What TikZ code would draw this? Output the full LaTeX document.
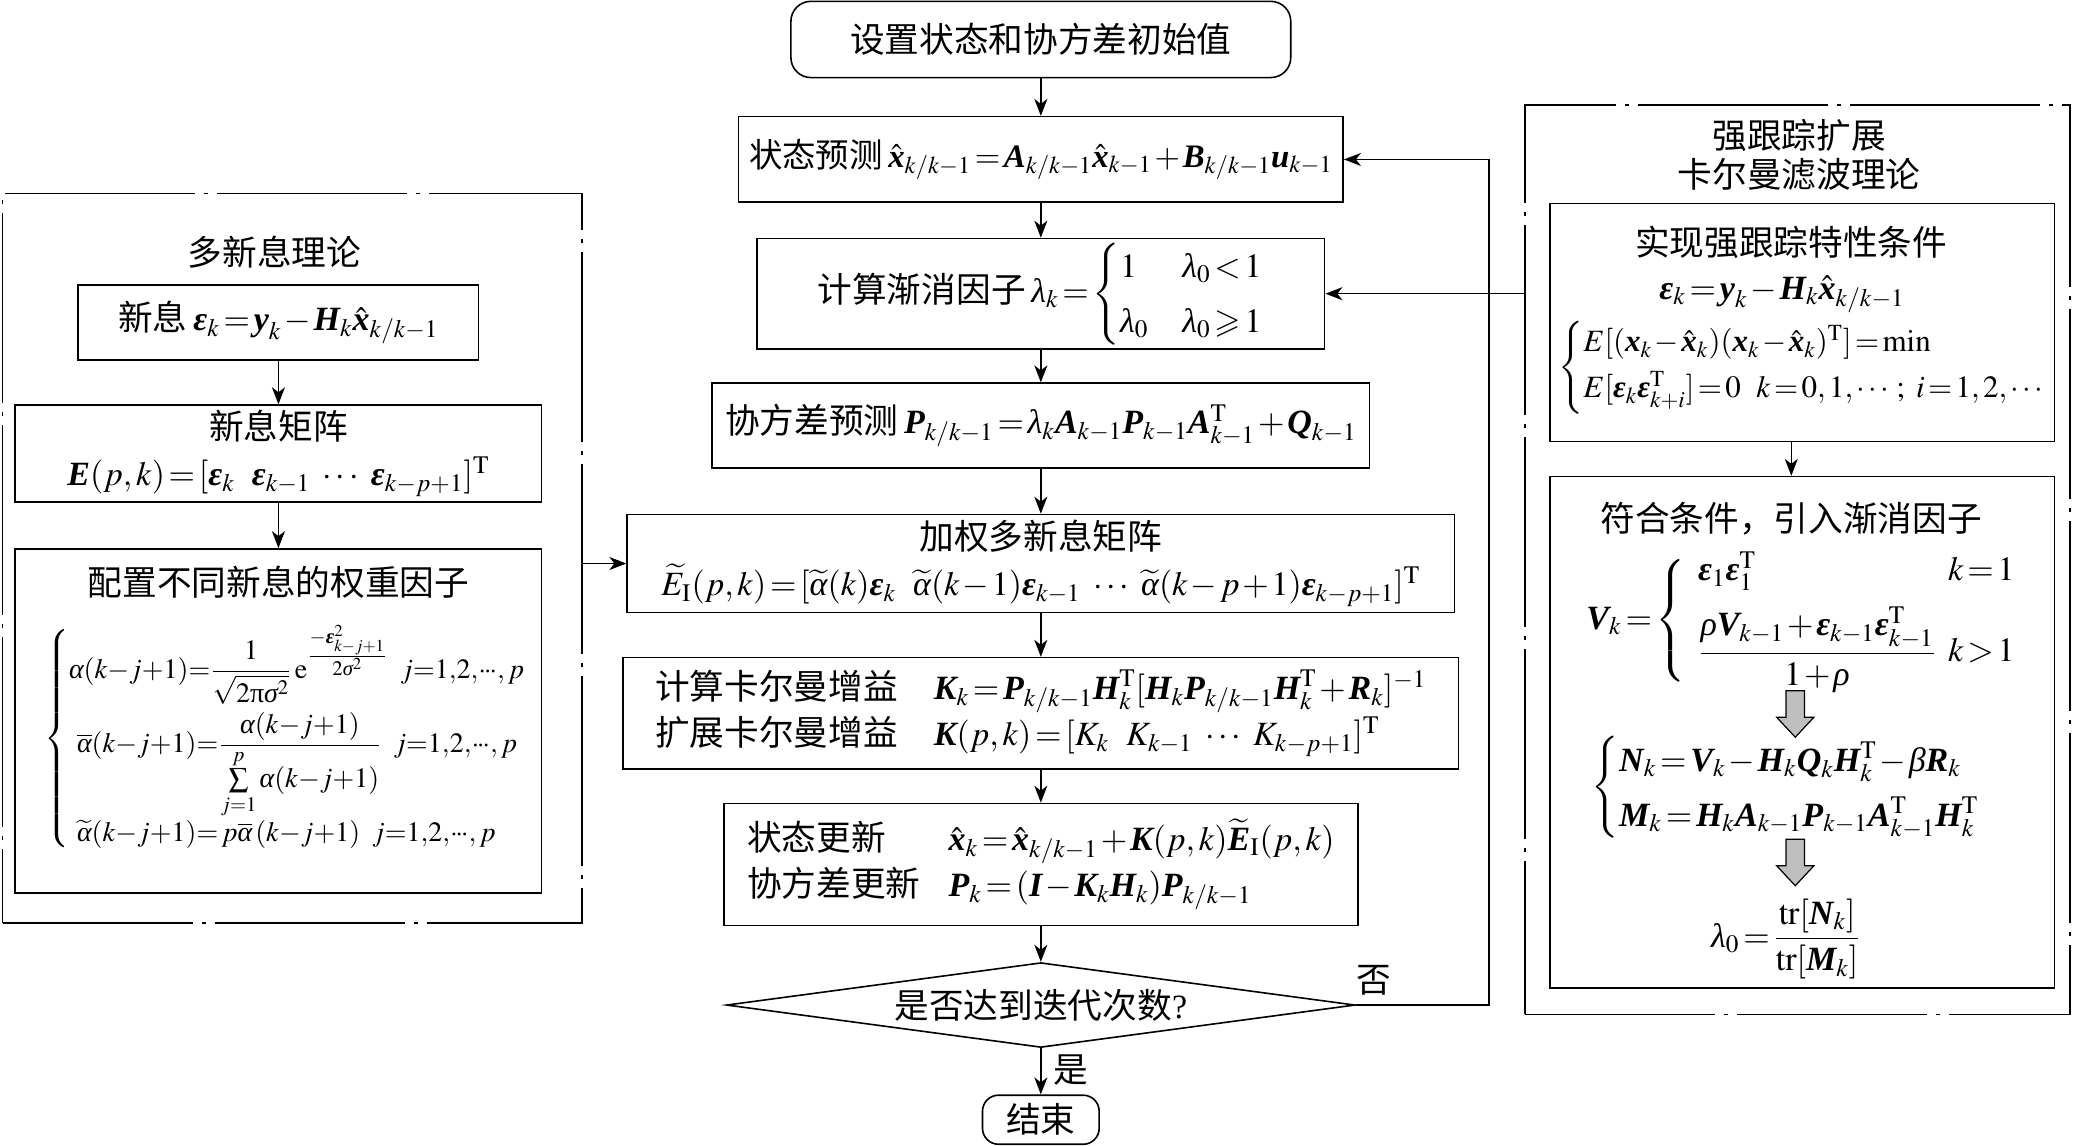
\documentclass[tikz,border=0pt]{standalone}
\usepackage{amsmath,amssymb}
\usepackage{mathptmx}
\usepackage{fontspec}
\setmainfont{Liberation Serif}
\newfontfamily\zh[Scale=1.02]{Noto Sans CJK SC}
\usetikzlibrary{shapes.geometric,arrows.meta}
\newcommand\bi[1]{\text{\normalfont\bfseries\itshape #1}}
\newcommand\mi[1]{\text{\normalfont\itshape #1}}
\newcommand\epb{\bi{ε}}
\newcommand\lm{\mi{λ}}
\newcommand\al{\mi{α}}
\newcommand\hx{\hat{\bi{x}}}
\newcommand\TT{\mathrm{T}}
\newcommand\cd{\mathord{\cdot}\mkern-1.5mu\mathord{\cdot}\mkern-1.5mu\mathord{\cdot}}
\newcommand\tightmath{\thickmuskip=2mu plus 1mu\medmuskip=1.5mu plus 1mu}
\tikzset{garr/.pic={\filldraw[fill=gray!50,draw=black,line width=0.6pt] (-7,0) -- (7,0) -- (7,20) -- (14,20) -- (0,35) -- (-14,20) -- (-7,20) -- cycle;}}
\begin{document}
\begin{tikzpicture}[x=0.663pt,y=-0.663pt,
  every node/.style={font=\fontsize{17}{23}\selectfont\tightmath},
  sz/.style 2 args={minimum width=#1*0.663pt,minimum height=#2*0.663pt},
  box/.style={draw,line width=0.8pt,inner sep=0pt,align=center},
  rbox/.style={box,rounded corners=10pt},
  frame/.style={draw,line width=0.8pt,inner sep=0pt,dash pattern=on 95pt off 4.5pt on 2pt off 4.5pt},
  arr/.style={line width=0.8pt,-{Stealth[length=8.5pt,width=6.5pt,inset=2.5pt]}},
  lbl/.style={inner sep=0pt,align=center}]
\useasboundingbox (0,0) rectangle (1568,864);

% central column
\node[rbox,sz={377}{57.5}] (st) at (785,29.75) {\zh 设置状态和协方差初始值};
\node[box,sz={456}{64.5},font=\fontsize{16.4}{23}\selectfont\tightmath] (b2) at (785,120.25) {{\zh 状态预测}\,$\hx_{k/k-1}=\bi{A}_{k/k-1}\hx_{k-1}+\bi{B}_{k/k-1}\bi{u}_{k-1}$};
\node[box,sz={428}{77}] (b3) at (785,221.5) {{\zh 计算渐消因子}\,$\lm_k=\begin{cases}1 & \lm_0<1\\ \lm_0 & \lm_0\geqslant 1\end{cases}$};
\node[box,sz={496}{64}] (b4) at (785,321) {{\zh 协方差预测}\,$\bi{P}_{k/k-1}=\lm_k\bi{A}_{k-1}\bi{P}_{k-1}\bi{A}^{\TT}_{k-1}+\bi{Q}_{k-1}$};
\node[box,sz={624}{74}] (b5) at (785,425) {{\zh 加权多新息矩阵}\\$\widetilde{E}_{\mathrm{I}}(p,k)=[\widetilde{\al}(k)\epb_k\ \ \widetilde{\al}(k-1)\epb_{k-1}\ \cdots\ \widetilde{\al}(k-p+1)\epb_{k-p+1}]^{\TT}$};
\node[box,sz={630}{84}] (b6) at (785,538) {\begin{tabular}{@{}l@{\hspace{18pt}}l@{}}
{\zh 计算卡尔曼增益} & $\bi{K}_k=\bi{P}_{k/k-1}\bi{H}_k^{\TT}[\bi{H}_k\bi{P}_{k/k-1}\bi{H}_k^{\TT}+\bi{R}_k]^{-1}$\\
{\zh 扩展卡尔曼增益} & $\bi{K}(p,k)=[K_k\ \ K_{k-1}\ \cdots\ K_{k-p+1}]^{\TT}$
\end{tabular}};
\node[box,sz={478}{92}] (b7) at (785,652) {\begin{tabular}{@{}l@{\hspace{14pt}}l@{}}
{\zh 状态更新} & $\hx_k=\hx_{k/k-1}+\bi{K}(p,k)\widetilde{\bi{E}}_{\mathrm{I}}(p,k)$\\
{\zh 协方差更新} & $\bi{P}_k=(\bi{I}-\bi{K}_k\bi{H}_k)\bi{P}_{k/k-1}$
\end{tabular}};
\node[diamond,draw,line width=0.8pt,inner sep=0pt,aspect=7.4,sz={474}{64}] (dm) at (785,758) {{\zh 是否达到迭代次数}?};
\node[rbox,rounded corners=8pt,sz={88}{37}] (en) at (785,844.5) {\zh 结束};
\node[lbl] (no) at (1036,739) {\zh 否};
\node[lbl] (yes) at (808,807) {\zh 是};
\coordinate (lp) at (1123,758);

\draw[arr] (st) -- (b2);
\draw[arr] (b2) -- (b3);
\draw[arr] (b3) -- (b4);
\draw[arr] (b4) -- (b5);
\draw[arr] (b5) -- (b6);
\draw[arr] (b6) -- (b7);
\draw[arr] (b7) -- (dm);
\draw[arr] (dm) -- (en);
\draw[arr] (dm.east) -- (lp) |- (b2.east);

% left frame
\node[frame,sz={437}{550}] (lf) at (220.5,421) {};
\node[lbl] (lft) at (207,190) {\zh 多新息理论};
\node[box,sz={302}{56.5}] (l1) at (210,243.25) {{\zh 新息}\,$\epb_k=\bi{y}_k-\bi{H}_k\hx_{k/k-1}$};
\node[box,sz={397}{73}] (l2) at (210,342) {{\zh 新息矩阵}\\$\bi{E}(p,k)=[\epb_k\ \ \epb_{k-1}\ \cdots\ \epb_{k-p+1}]^{\TT}$};
\node[box,sz={397}{259.5}] (l3) at (210,543.75) {};
\node[lbl] (l3t) at (210,439) {\zh 配置不同新息的权重因子};
\node[lbl,anchor=west,font=\fontsize{14}{17}\selectfont\tightmath] (l3f) at (33,557) {$\left\{\begin{array}{@{}l@{}}
\al(k{-}j{+}1){=}\dfrac{1}{\sqrt{2\text{\normalfont π}\mi{σ}^2}}\,\mathrm{e}^{\genfrac{}{}{}{1}{-\epb^2_{k-j+1}}{2\mi{σ}^2}}\hspace{6pt}j{=}1{,}2{,}\cd{,}\,p\\[12pt]
\hspace{4pt}\overline{\al}(k{-}j{+}1){=}\dfrac{\al(k{-}j{+}1)}{\sum\limits_{j=1}^{p}\al(k{-}j{+}1)}\hspace{6pt}j{=}1{,}2{,}\cd{,}\,p\\[19pt]
\hspace{4pt}\widetilde{\al}(k{-}j{+}1){=}\,p\overline{\al}\,(k{-}j{+}1)\hspace{6pt}j{=}1{,}2{,}\cd{,}\,p
\end{array}\right.$};
\draw[arr] (l1) -- (l2);
\draw[arr] (l2) -- (l3);
\draw[arr] (lf.east |- b5.west) -- (b5.west);

% right frame
\node[frame,sz={411}{686}] (rf) at (1355.5,422) {};
\node[lbl,font=\fontsize{17}{19.5}\selectfont] (rft) at (1357,117) {\zh 强跟踪扩展\\\zh 卡尔曼滤波理论};
\node[box,sz={380.5}{179.5}] (r1) at (1359.25,243.25) {};
\node[lbl] (r1t) at (1351,183) {\zh 实现强跟踪特性条件};
\node[lbl] (r1a) at (1344,222) {$\epb_k=\bi{y}_k-\bi{H}_k\hx_{k/k-1}$};
\node[lbl,anchor=west,font=\fontsize{15.5}{19}\selectfont\tightmath] (r1b) at (1175,277) {$\left\{\begin{array}{@{}l@{}}
E[(\bi{x}_k-\hx_k)(\bi{x}_k-\hx_k)^{\TT}]=\min\\[4pt]
E[\epb_k\epb^{\TT}_{k+i}]=0\ \ k=0,1,\cdots;\ i=1,2,\cdots
\end{array}\right.$};
\node[box,sz={380.5}{385.5}] (r2) at (1359.25,552.25) {};
\node[lbl] (r2t) at (1351,391) {\zh 符合条件，引入渐消因子};
\node[lbl] (r2a) at (1358,468) {$\bi{V}_k=\left\{\rule[-24pt]{0pt}{48pt}\right.\hspace{3pt}\begin{array}{@{}l@{\hspace{6pt}}l@{}}\epb_1\epb_1^{\TT} & k=1\\[6pt] \dfrac{\mi{ρ}\bi{V}_{k-1}+\epb_{k-1}\epb_{k-1}^{\TT}}{1+\mi{ρ}} & k>1\end{array}$};
\node[lbl] (r2b) at (1360,594) {$\begin{cases}\bi{N}_k=\bi{V}_k-\bi{H}_k\bi{Q}_k\bi{H}_k^{\TT}-\mi{β}\bi{R}_k\\ \bi{M}_k=\bi{H}_k\bi{A}_{k-1}\bi{P}_{k-1}\bi{A}_{k-1}^{\TT}\bi{H}_k^{\TT}\end{cases}$};
\node[lbl] (r2c) at (1347,708) {$\lm_0=\dfrac{\mathrm{tr}[\bi{N}_k]}{\mathrm{tr}[\bi{M}_k]}$};
\pic at (1354,521) {garr};
\pic at (1354,633) {garr};
\draw[arr] (r1.south -| r1t) -- (r2.north -| r1t);
\draw[arr] (rf.west |- b3.east) -- (b3.east);
\end{tikzpicture}
\end{document}
